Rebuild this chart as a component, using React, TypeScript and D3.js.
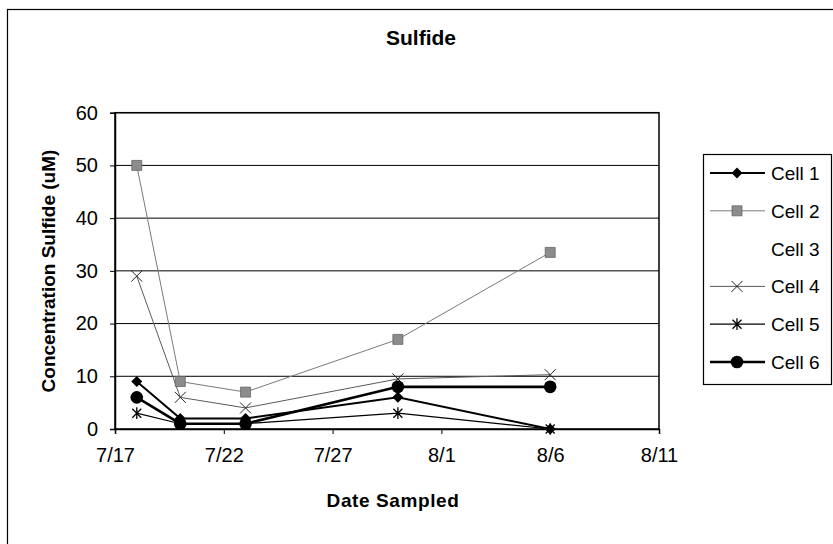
import React, { useEffect, useRef } from 'react';
import * as d3 from 'd3';

// sampling dates (month/day)
const sampleDates = ["7/18", "7/20", "7/23", "7/30", "8/6"];
const tickDates = ["7/17", "7/22", "7/27", "8/1", "8/6", "8/11"];
const yTicks = [0, 10, 20, 30, 40, 50, 60];

const cellNames = ["Cell 1", "Cell 2", "Cell 3", "Cell 4", "Cell 5", "Cell 6"];
const cell1 = [9, 2, 2, 6, 0];
const cell2 = [50, 9, 7, 17, 33.5];
const cell3: number[] = [];
const cell4 = [29, 6, 4, 9.5, 10.3];
const cell5 = [3, 1, 1, 3, 0];
const cell6 = [6, 1, 1, 8, 8];

const parseDate = d3.timeParse("%m/%d/%Y");
const toDate = (s: string) => parseDate(s + "/2003") as Date;

const xPath = (s: number) => `M${-s},${-s}L${s},${s}M${-s},${s}L${s},${-s}`;
const starPath = (s: number) => `${xPath(s)}M0,${-s * 1.3}L0,${s * 1.3}`;
const diamondPath = (s: number) => `M0,${-s}L${s},0L0,${s}L${-s},0Z`;

const App = () => {
    const ref = useRef<SVGSVGElement>(null);

    useEffect(() => {
        const svg = d3.select(ref.current);
        svg.selectAll("*").remove();

        const font = "'Liberation Sans', Arial, sans-serif";
        const left = 115, right = 659, top = 112.7, bottom = 429;

        const x = d3.scaleTime()
            .domain([toDate("7/17"), toDate("8/11")])
            .range([left, right]);
        const y = d3.scaleLinear().domain([0, 60]).range([bottom, top]);

        // outer chart frame (only left/top visible)
        svg.append("rect")
            .attr("x", 7.5).attr("y", 9.5)
            .attr("width", 840).attr("height", 560)
            .attr("fill", "none").attr("stroke", "#000").attr("stroke-width", 1.2);

        svg.append("text")
            .attr("x", 421).attr("y", 45)
            .attr("text-anchor", "middle")
            .attr("font-family", font).attr("font-weight", "bold").attr("font-size", 21)
            .text("Sulfide");

        // gridlines
        svg.selectAll(".grid")
            .data(yTicks.filter(d => d > 0))
            .enter().append("line")
            .attr("x1", left).attr("x2", right)
            .attr("y1", d => y(d)).attr("y2", d => y(d))
            .attr("stroke", "#000").attr("stroke-width", 1);

        // plot area border
        svg.append("rect")
            .attr("x", left).attr("y", top)
            .attr("width", right - left).attr("height", bottom - top)
            .attr("fill", "none").attr("stroke", "#000").attr("stroke-width", 1.5);

        // y axis
        const yAxis = svg.append("g")
            .attr("transform", `translate(${left},0)`)
            .call(d3.axisLeft(y).tickValues(yTicks).tickSize(5).tickPadding(12));
        yAxis.select(".domain").attr("stroke-width", 1.5);
        yAxis.selectAll("text").attr("font-family", font).attr("font-size", 20).attr("fill", "#000");

        // x axis
        const xAxis = svg.append("g")
            .attr("transform", `translate(0,${bottom})`)
            .call(d3.axisBottom(x)
                .tickValues(tickDates.map(toDate))
                .tickFormat(d3.timeFormat("%-m/%-d") as any)
                .tickSize(5).tickPadding(14));
        xAxis.select(".domain").attr("stroke-width", 1.5);
        xAxis.selectAll("text").attr("font-family", font).attr("font-size", 20).attr("fill", "#000");

        svg.append("text")
            .attr("x", 393).attr("y", 507)
            .attr("text-anchor", "middle")
            .attr("font-family", font).attr("font-weight", "bold").attr("font-size", 19)
            .attr("letter-spacing", 0.6)
            .text("Date Sampled");

        svg.append("text")
            .attr("transform", "translate(55,271) rotate(-90)")
            .attr("text-anchor", "middle")
            .attr("font-family", font).attr("font-weight", "bold").attr("font-size", 19)
            .text("Concentration Sulfide (uM)");

        const dates = sampleDates.map(toDate);

        type Style = { stroke: string; width: number; marker: (g: any) => void };
        const square = d3.symbol().type(d3.symbolSquare).size(100)();
        const circle = d3.symbol().type(d3.symbolCircle).size(125)();

        const styles: Style[] = [
            { stroke: "#000", width: 2, marker: g => g.append("path").attr("d", diamondPath(5.5)).attr("fill", "#000") },
            { stroke: "#7a7a7a", width: 1, marker: g => g.append("path").attr("d", square).attr("fill", "#8c8c8c").attr("stroke", "#666").attr("stroke-width", 0.8) },
            { stroke: "none", width: 0, marker: () => {} },
            { stroke: "#5a5a5a", width: 1, marker: g => g.append("path").attr("d", xPath(5.5)).attr("fill", "none").attr("stroke", "#222").attr("stroke-width", 1) },
            { stroke: "#000", width: 1.2, marker: g => g.append("path").attr("d", starPath(4.5)).attr("fill", "none").attr("stroke", "#000").attr("stroke-width", 1.3) },
            { stroke: "#000", width: 2.6, marker: g => g.append("path").attr("d", circle).attr("fill", "#000") },
        ];

        const series = [cell1, cell2, cell3, cell4, cell5, cell6];
        const line = d3.line<number>()
            .x((_, i) => x(dates[i]))
            .y(d => y(d));

        const order = [1, 3, 0, 4, 5, 2];
        order.forEach(k => {
            const vals = series[k];
            if (!vals.length) return;
            svg.append("path")
                .attr("d", line(vals))
                .attr("fill", "none")
                .attr("stroke", styles[k].stroke)
                .attr("stroke-width", styles[k].width);
        });
        order.forEach(k => {
            series[k].forEach((v, i) => {
                const g = svg.append("g").attr("transform", `translate(${x(dates[i])},${y(v)})`);
                styles[k].marker(g);
            });
        });

        // legend
        svg.append("rect")
            .attr("x", 703.5).attr("y", 154.5)
            .attr("width", 128).attr("height", 230)
            .attr("fill", "#fff").attr("stroke", "#000").attr("stroke-width", 1.2);

        const legY = d3.scalePoint<string>().domain(cellNames).range([173, 362]);
        cellNames.forEach((name, k) => {
            const yy = legY(name) as number;
            if (styles[k].width > 0) {
                svg.append("line")
                    .attr("x1", 710).attr("x2", 765)
                    .attr("y1", yy).attr("y2", yy)
                    .attr("stroke", styles[k].stroke)
                    .attr("stroke-width", styles[k].width);
                styles[k].marker(svg.append("g").attr("transform", `translate(737,${yy})`));
            }
            svg.append("text")
                .attr("x", 771).attr("y", yy + 7)
                .attr("font-family", font).attr("font-size", 19)
                .text(name);
        });
    }, []);

    return <svg ref={ref} width={833} height={544} style={{ position: "absolute", left: 0, top: 0, background: "#fff" }} />;
};

export default App;
